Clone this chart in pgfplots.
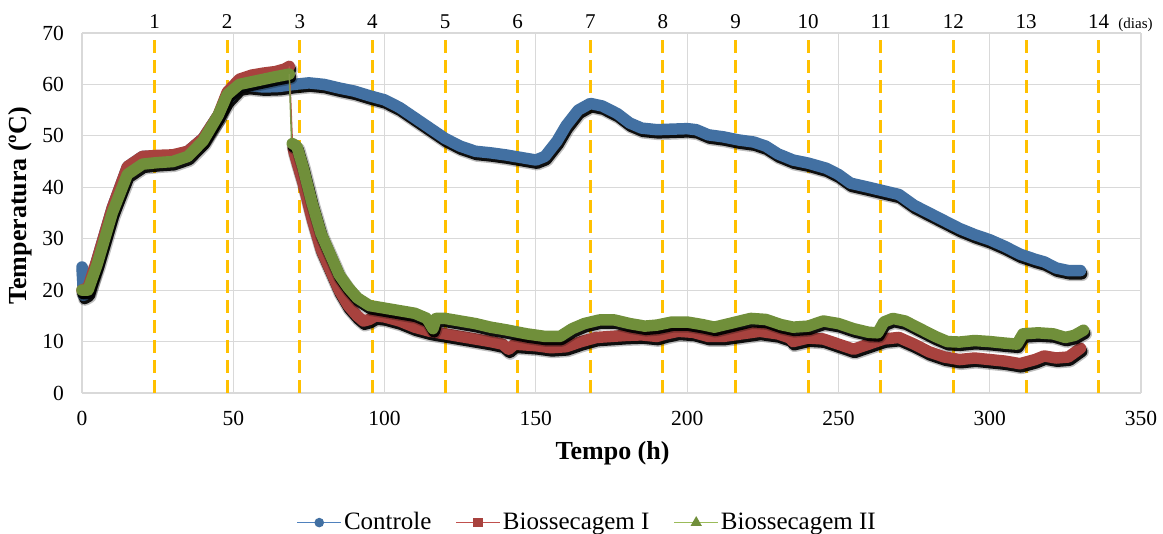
\documentclass[border=0pt]{standalone}
\usepackage{pgfplots}
\pgfplotsset{compat=1.18}
\usepackage{fontspec}
\setmainfont{Liberation Serif}
\definecolor{cblue}{RGB}{66,112,162}
\definecolor{cred}{RGB}{168,66,62}
\definecolor{cgreen}{RGB}{112,143,58}
\definecolor{lblue}{RGB}{79,129,189}
\definecolor{lred}{RGB}{192,80,77}
\definecolor{lgreen}{RGB}{155,187,89}
\definecolor{cgrid}{RGB}{217,217,217}
\definecolor{corange}{RGB}{255,192,0}
\tikzset{
  band/.style={line width=11.5pt, line join=round, line cap=round, mark=none},
  shad/.style={black, line width=11.5pt, line join=round, line cap=round, mark=none, shift={(1.2pt,-3.2pt)}, opacity=0.92},
  shadsoft/.style={black, line width=14pt, line join=round, line cap=round, mark=none, shift={(1.5pt,-3.5pt)}, opacity=0.25},
}
\begin{document}
\fontsize{21}{25}\selectfont
\begin{tikzpicture}
\useasboundingbox (0,0) rectangle (1163pt,534pt);
\begin{axis}[
  at={(82pt,141pt)}, anchor=south west,
  scale only axis, width=1059pt, height=360pt,
  xmin=0, xmax=350, ymin=0, ymax=70,
  xtick={0,50,...,350}, ytick={0,10,...,70},
  grid=major, major grid style={cgrid, line width=1.2pt},
  axis line style={cgrid, line width=1.2pt},
  axis x line*=bottom, axis y line*=left,
  tick style={draw=none},
  clip=false,
  /pgf/number format/assume math mode=true,
  ticklabel style={font=\fontsize{21.5}{25}\selectfont},
  xticklabel style={yshift=-11pt},
  yticklabel style={xshift=-11pt},
  xlabel={\textbf{Tempo (h)}},
  ylabel={\textbf{Temperatura (ºC)}},
  label style={font=\fontsize{26}{30}\selectfont},
  xlabel style={at={(axis description cs:0.501,-0.167)}, anchor=center},
  ylabel style={at={(axis description cs:-0.058,0.52)}, anchor=center},
  legend columns=3,
  legend style={draw=none, fill=none, font=\fontsize{25}{30}\selectfont,
    at={(0.477,-0.36)}, anchor=center,
    /tikz/every even column/.append style={column sep=22pt}},
  legend image code/.code={\draw[#1, mark repeat=2, mark phase=2] plot coordinates {(0pt,0pt) (22pt,0pt) (44pt,0pt)};},
]
% day lines
\pgfplotsinvokeforeach{1,...,14}{
  \draw[corange, line width=3pt, dash pattern=on 13pt off 7pt] (axis cs:#1*24,0) -- (axis cs:#1*24,70);
  \node[anchor=base, inner sep=0pt, font=\fontsize{21}{25}\selectfont] at ([yshift=4pt]axis cs:#1*24,70) {#1};
}
\node[anchor=base west, inner sep=0pt, font=\fontsize{15}{18}\selectfont] at ([yshift=4pt]axis cs:342.5,70) {(dias)};

% Controle
\def\dataC{(0,24.5) (0.5,19) (2,19.5) (5,26) (10,36) (15,44) (20,46) (25,46) (30,46) (35,47) (40,49.5) (45,54) (48,57) (52,59.5) (55,59.8) (60,59.5) (65,59.6) (70,60) (75,60.3) (80,60) (85,59.3) (90,58.7) (95,57.8) (100,57) (105,55.5) (110,53.5) (115,51.5) (120,49.5) (125,48) (130,47) (135,46.7) (140,46.3) (145,45.8) (150,45.3) (153,46) (157,49) (160,52) (164,55) (168,56.3) (172,55.8) (177,54.3) (181,52.5) (185,51.5) (190,51.2) (195,51.3) (200,51.4) (203,51.2) (207,50.2) (212,49.8) (217,49.2) (222,48.8) (226,48) (230,46.5) (235,45.3) (240,44.7) (246,43.7) (250,42.5) (254,40.8) (260,40) (265,39.3) (270,38.6) (275,36.5) (280,35) (285,33.5) (290,32) (295,30.8) (300,29.8) (305,28.5) (310,27) (315,26) (318,25.5) (322,24.3) (326,23.8) (330,23.8)}
\addplot[shadsoft, forget plot] coordinates {\dataC};
\addplot[shad, forget plot] coordinates {\dataC};
\addplot[band, cblue, forget plot] coordinates {\dataC};

% Biossecagem I
\def\dataRa{(0,20) (2,20.5) (5,26) (10,36) (15,44) (20,46) (25,46.2) (30,46.3) (35,47) (40,49.5) (45,54) (48,58.5) (52,61) (56,61.8) (60,62.2) (64,62.5) (67,63) (68.5,63.5)}
\def\dataRb{(69.8,47.5) (71,45) (73,41) (76,34) (79,28) (82,24) (85,20) (88,17) (91,15) (93,14) (95,14.3) (97,15) (100,14.8) (105,14) (110,12.8) (115,12) (120,11.5) (125,11) (130,10.5) (135,10) (139,9.5) (141,8.5) (143,9.5) (150,9.2) (155,8.8) (160,9) (165,10) (170,10.8) (175,11) (180,11.2) (185,11.3) (190,11) (193,11.5) (197,12) (202,11.8) (207,11) (212,11) (218,11.5) (224,12) (230,11.5) (234,10.7) (235,10) (240,10.7) (245,10.5) (250,9.5) (255,8.5) (260,9.5) (265,10.5) (270,10.8) (275,9.5) (280,8) (285,7) (290,6.5) (295,6.8) (300,6.5) (305,6.2) (310,5.7) (315,6.5) (318,7.2) (322,6.8) (326,7) (330,8.7)}
\addplot[shadsoft, forget plot] coordinates {\dataRa};
\addplot[shad, forget plot] coordinates {\dataRa};
\addplot[shadsoft, forget plot] coordinates {\dataRb};
\addplot[shad, forget plot] coordinates {\dataRb};
\addplot[band, cred, forget plot] coordinates {\dataRa};
\addplot[lred, line width=1.5pt, mark=none, forget plot] coordinates {(68.5,63.5) (69.6,47.5)};
\addplot[band, cred, forget plot] coordinates {\dataRb};

% Biossecagem II
\def\dataGa{(0,20) (2,20) (5,25) (10,35) (15,42.5) (20,44.5) (25,44.8) (30,45) (35,46) (40,49) (45,54) (48,58) (52,60) (56,60.5) (60,61) (64,61.5) (68.5,62)}
\def\dataGb{(69.5,48.5) (71,48) (73,44) (76,37) (79,31) (82,27) (85,23) (88,20.5) (91,18.5) (95,17) (100,16.5) (105,16) (110,15.5) (114,14.5) (116,12.5) (117,14.5) (120,14.5) (125,14) (130,13.5) (135,12.8) (140,12.3) (147,11.5) (153,11) (158,11) (162,12.5) (166,13.5) (171,14.2) (176,14.2) (181,13.5) (186,13) (190,13.2) (195,13.8) (200,13.8) (205,13.3) (209,12.8) (214,13.5) (221,14.5) (226,14.3) (231,13.3) (235,12.8) (240,13) (245,14) (250,13.5) (255,12.5) (260,11.8) (263,11.7) (265,13.8) (268,14.5) (272,14) (277,12.5) (282,11) (286,10) (290,9.9) (295,10.2) (300,10) (305,9.7) (309,9.5) (311,11.5) (316,11.7) (321,11.5) (325,10.8) (328,11.2) (331,12.2)}
\addplot[shadsoft, forget plot] coordinates {\dataGa};
\addplot[shad, forget plot] coordinates {\dataGa};
\addplot[shadsoft, forget plot] coordinates {\dataGb};
\addplot[shad, forget plot] coordinates {\dataGb};
\addplot[band, cgreen, forget plot] coordinates {\dataGa};
\addplot[lgreen!80!black, line width=1.5pt, mark=none, forget plot] coordinates {(68.5,62) (69.3,48.5)};
\addplot[band, cgreen, forget plot] coordinates {\dataGb};

% legend
\addlegendimage{lblue, line width=1.5pt, mark=*, mark size=4pt, mark options={fill=cblue, draw=cblue}}
\addlegendentry{Controle}
\addlegendimage{lred, line width=1.5pt, mark=square*, mark size=4pt, mark options={fill=cred, draw=cred}}
\addlegendentry{Biossecagem I}
\addlegendimage{lgreen, line width=1.5pt, mark=triangle*, mark size=5pt, mark options={fill=cgreen, draw=cgreen}}
\addlegendentry{Biossecagem II}
\end{axis}
\end{tikzpicture}
\end{document}
